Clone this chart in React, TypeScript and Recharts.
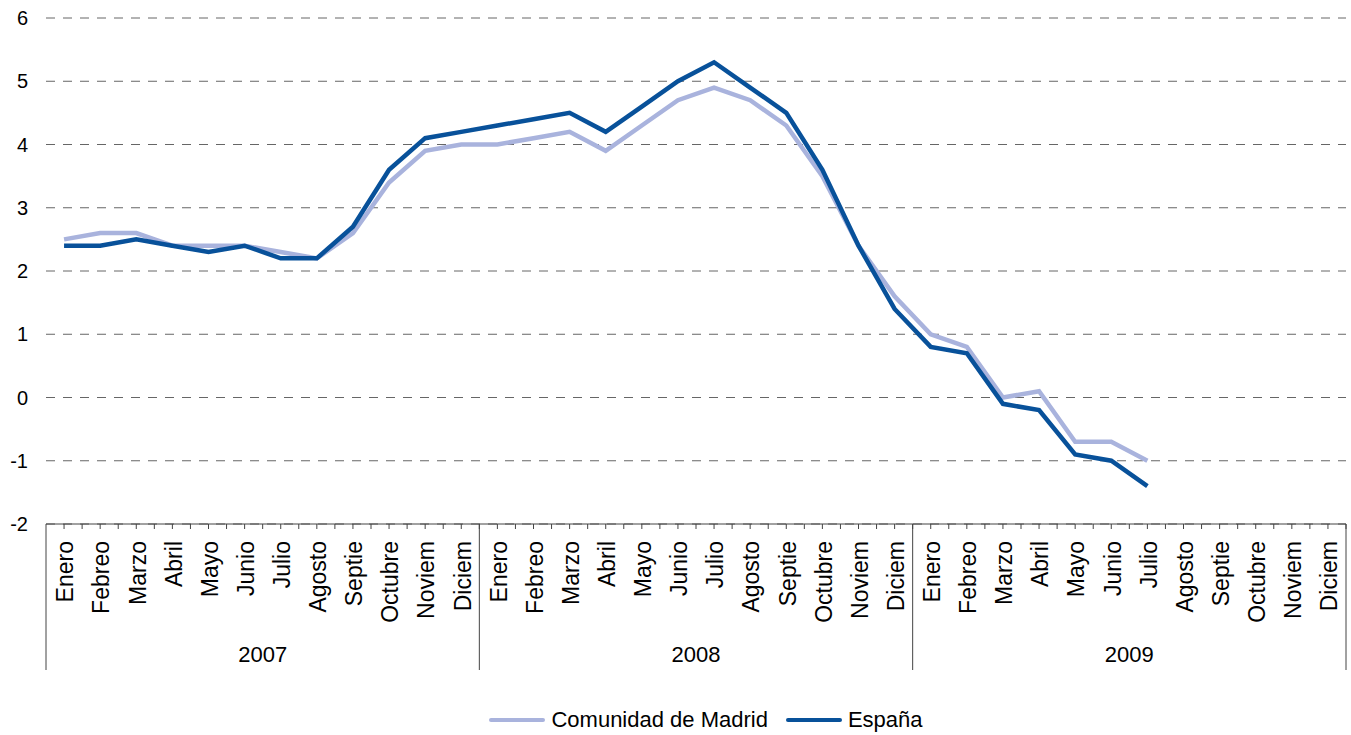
import React from 'react'
import { LineChart, Line, XAxis, YAxis, CartesianGrid, Legend } from 'recharts'

const months = ['Enero', 'Febreo', 'Marzo', 'Abril', 'Mayo', 'Junio', 'Julio', 'Agosto', 'Septie', 'Octubre', 'Noviem', 'Diciem']
const years = ['2007', '2008', '2009']

const madrid = [
  2.5, 2.6, 2.6, 2.4, 2.4, 2.4, 2.3, 2.2, 2.6, 3.4, 3.9, 4.0,
  4.0, 4.1, 4.2, 3.9, 4.3, 4.7, 4.9, 4.7, 4.3, 3.5, 2.4, 1.6,
  1.0, 0.8, 0.0, 0.1, -0.7, -0.7, -1.0, null, null, null, null, null,
]
const espana = [
  2.4, 2.4, 2.5, 2.4, 2.3, 2.4, 2.2, 2.2, 2.7, 3.6, 4.1, 4.2,
  4.3, 4.4, 4.5, 4.2, 4.6, 5.0, 5.3, 4.9, 4.5, 3.6, 2.4, 1.4,
  0.8, 0.7, -0.1, -0.2, -0.9, -1.0, -1.4, null, null, null, null, null,
]
const yTicks = [-2, -1, 0, 1, 2, 3, 4, 5, 6]

const MADRID_COLOR = '#a9b3dd'
const ESPANA_COLOR = '#08519a'
const FONT = '"Liberation Sans", Arial, sans-serif'

const W = 1351
const H = 735
const LEFT = 46
const RIGHT = 5
const STEP = (W - LEFT - RIGHT) / (months.length * years.length)

const data = years.flatMap((y, yi) =>
  months.map((m, mi) => ({
    key: `${y}-${mi}`,
    month: m,
    year: y,
    madrid: madrid[yi * 12 + mi],
    espana: espana[yi * 12 + mi],
  }))
)

function MonthTick(props: any) {
  const { x, y, index } = props
  const d = data[index]
  if (!d) return null
  const mi = index % 12
  const last = index === data.length - 1
  return (
    <g>
      <line x1={x} x2={x} y1={y} y2={y + 5} stroke="#444" strokeWidth={1} />
      <line x1={x + STEP / 2} x2={x + STEP / 2} y1={y} y2={y + 5} stroke="#444" strokeWidth={1} />
      {mi === 0 && <line x1={x - STEP / 2} x2={x - STEP / 2} y1={y} y2={y + 146} stroke="#444" strokeWidth={1} />}
      {last && <line x1={x + STEP / 2} x2={x + STEP / 2} y1={y} y2={y + 146} stroke="#444" strokeWidth={1} />}
      <text
        transform={`translate(${x + 1}, ${y + 17}) rotate(-90)`}
        textAnchor="end"
        dy="0.36em"
        fontSize={23}
        fontFamily={FONT}
        fill="#000"
      >
        {d.month}
      </text>
      {mi === 0 && (
        <text x={x + 5.5 * STEP} y={y + 138} textAnchor="middle" fontSize={22} fontFamily={FONT} fill="#000">
          {d.year}
        </text>
      )}
    </g>
  )
}

function LegendContent() {
  const item = (color: string, label: string) => (
    <span style={{ display: 'inline-flex', alignItems: 'center', marginRight: 18 }}>
      <span style={{ display: 'inline-block', width: 56, height: 4, background: color, borderRadius: 2, marginRight: 6 }} />
      <span>{label}</span>
    </span>
  )
  return (
    <div style={{ height: 30, display: 'flex', justifyContent: 'center', alignItems: 'center', fontFamily: FONT, fontSize: 22, color: '#000', paddingLeft: 84 }}>
      {item(MADRID_COLOR, 'Comunidad de Madrid')}
      {item(ESPANA_COLOR, 'España')}
    </div>
  )
}

export default function App() {
  return (
    <div style={{ position: 'absolute', left: 0, top: 0, background: '#fff' }}>
      <LineChart width={W} height={H} data={data} margin={{ top: 18, right: RIGHT, left: 0, bottom: 0 }}>
        <CartesianGrid vertical={false} stroke="#666" strokeDasharray="9 8" />
        <XAxis
          dataKey="key"
          interval={0}
          padding={{ left: STEP / 2, right: STEP / 2 }}
          height={181}
          tickLine={false}
          tickSize={0}
          tickMargin={0}
          axisLine={{ stroke: '#444', strokeWidth: 1 }}
          tick={<MonthTick />}
        />
        <YAxis
          width={LEFT}
          domain={[-2, 6]}
          ticks={yTicks}
          interval={0}
          axisLine={false}
          tickLine={false}
          tickSize={0}
          tickMargin={18}
          tick={{ fontSize: 20, fontFamily: FONT, fill: '#000' }}
        />
        <Legend verticalAlign="bottom" content={<LegendContent />} />
        <Line type="linear" dataKey="madrid" name="Comunidad de Madrid" stroke={MADRID_COLOR} strokeWidth={4.5} dot={false} isAnimationActive={false} />
        <Line type="linear" dataKey="espana" name="España" stroke={ESPANA_COLOR} strokeWidth={4.5} dot={false} isAnimationActive={false} />
      </LineChart>
    </div>
  )
}
